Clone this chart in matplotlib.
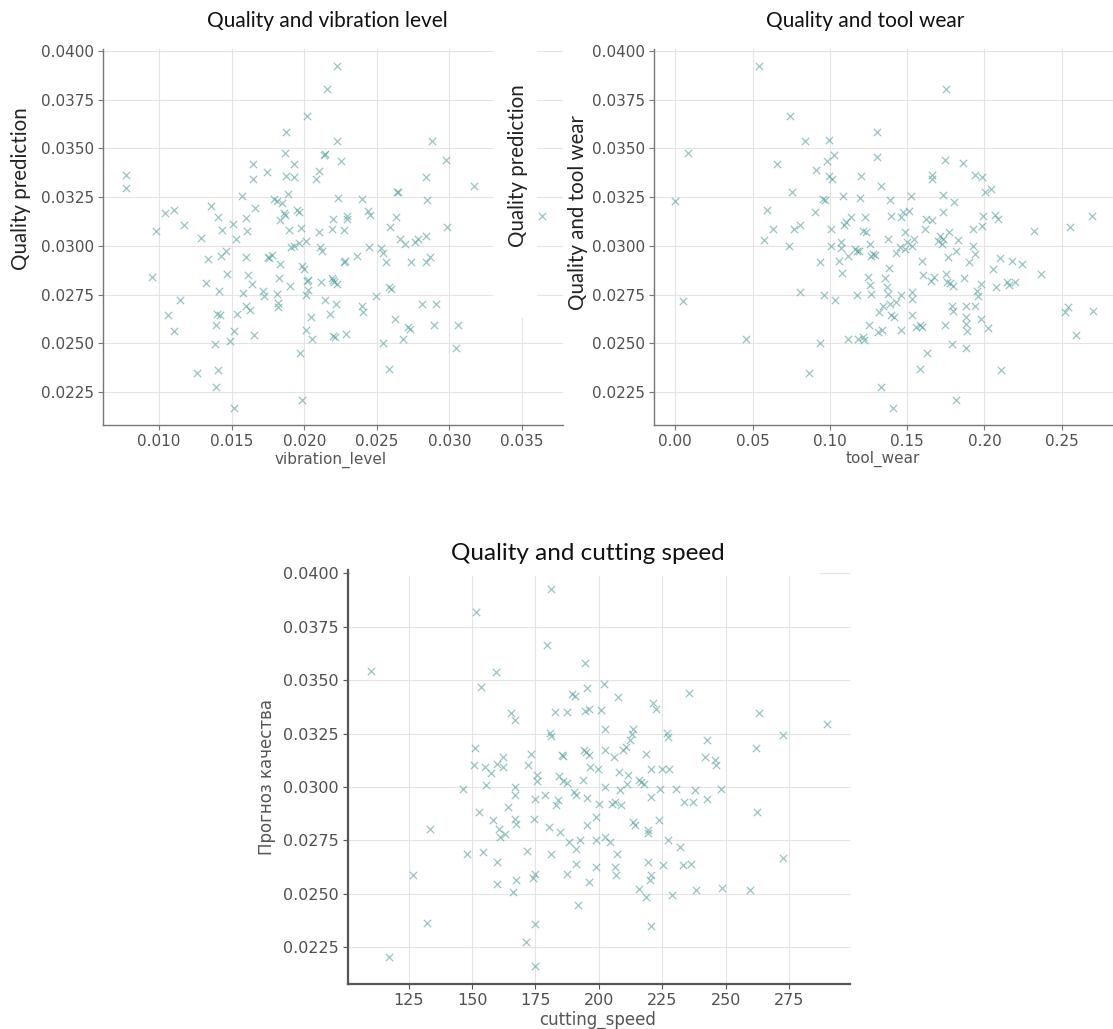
import matplotlib
matplotlib.use("Agg")
import matplotlib.pyplot as plt
from matplotlib.patches import Rectangle
from matplotlib.ticker import FormatStrFormatter

# ---------------- data ----------------
vibration_level = [
    0.00775, 0.00772, 0.00951, 0.00980, 0.01042, 0.01105, 0.01169, 0.01059, 0.01142, 0.01100,
    0.01287, 0.01262, 0.01324, 0.01338, 0.01360, 0.01409, 0.01434, 0.01429, 0.01412, 0.01397,
    0.01422, 0.01390, 0.01385, 0.01409, 0.01392, 0.01471, 0.01458, 0.01490, 0.01515, 0.01517,
    0.01510, 0.01532, 0.01534, 0.01569, 0.01578, 0.01600, 0.01598, 0.01608, 0.01596, 0.01613,
    0.01637, 0.01623, 0.01650, 0.01647, 0.01660, 0.01652, 0.01713, 0.01720, 0.01745, 0.01748,
    0.01779, 0.01789, 0.01814, 0.01831, 0.01846, 0.01858, 0.01865, 0.01875, 0.01870, 0.01875,
    0.01890, 0.01931, 0.01931, 0.01814, 0.01816, 0.01816, 0.01831, 0.01828, 0.01895, 0.01902,
    0.01912, 0.01927, 0.01949, 0.01963, 0.01961, 0.01976, 0.01985, 0.01995, 0.02010, 0.02017,
    0.02025, 0.02012, 0.02012, 0.01968, 0.01985, 0.02044, 0.02051, 0.02020, 0.02078, 0.02103,
    0.02135, 0.02142, 0.02103, 0.02108, 0.02123, 0.02118, 0.02145, 0.02160, 0.02225, 0.02225,
    0.02250, 0.02230, 0.02196, 0.02191, 0.02194, 0.02201, 0.02206, 0.02225, 0.02216, 0.02176,
    0.02201, 0.02213, 0.02275, 0.02292, 0.02292, 0.02275, 0.02285, 0.02282, 0.02360, 0.02397,
    0.02397, 0.02404, 0.02441, 0.02453, 0.02446, 0.02495, 0.02527, 0.02544, 0.02564, 0.02586,
    0.02600, 0.02630, 0.02588, 0.02642, 0.02649, 0.02662, 0.02691, 0.02625, 0.02544, 0.02586,
    0.02679, 0.02728, 0.02716, 0.02733, 0.02765, 0.02782, 0.02809, 0.02838, 0.02846, 0.02838,
    0.02838, 0.02863, 0.02880, 0.02892, 0.02904, 0.02978, 0.02985, 0.03060, 0.03047, 0.03169,
    0.03635, 0.01755, 0.02027,
]
quality_vib = [
    0.03365, 0.03295, 0.02842, 0.03075, 0.03167, 0.03186, 0.03109, 0.02643, 0.02721, 0.02562,
    0.03039, 0.02349, 0.02812, 0.02931, 0.03204, 0.03146, 0.03081, 0.02950, 0.02769, 0.02648,
    0.02643, 0.02592, 0.02496, 0.02364, 0.02274, 0.02856, 0.02976, 0.02511, 0.02562, 0.02168,
    0.03112, 0.03035, 0.02651, 0.03257, 0.02759, 0.02694, 0.03143, 0.03075, 0.02941, 0.02848,
    0.02805, 0.02672, 0.03421, 0.03343, 0.03196, 0.02544, 0.02767, 0.02745, 0.03377, 0.02945,
    0.02955, 0.03240, 0.03232, 0.03133, 0.03218, 0.03167, 0.03160, 0.03582, 0.03479, 0.03360,
    0.03266, 0.03355, 0.03420, 0.02754, 0.02706, 0.02687, 0.02907, 0.02834, 0.03079, 0.02793,
    0.02993, 0.03001, 0.03186, 0.03172, 0.03015, 0.03090, 0.02899, 0.02882, 0.03025, 0.02822,
    0.02825, 0.02749, 0.02566, 0.02451, 0.02207, 0.02634, 0.02523, 0.03664, 0.03343, 0.03385,
    0.03466, 0.03469, 0.03070, 0.02993, 0.02976, 0.02813, 0.02723, 0.03807, 0.03923, 0.03539,
    0.03433, 0.03245, 0.03138, 0.03087, 0.02836, 0.02825, 0.02813, 0.02805, 0.02702, 0.02651,
    0.02537, 0.02535, 0.03083, 0.03155, 0.03138, 0.02919, 0.02549, 0.02924, 0.02948, 0.03240,
    0.02689, 0.02660, 0.03180, 0.03158, 0.02993, 0.02745, 0.02988, 0.02964, 0.02916, 0.02788,
    0.02779, 0.03146, 0.03099, 0.03275, 0.03278, 0.03035, 0.03010, 0.02626, 0.02501, 0.02370,
    0.02520, 0.02574, 0.02583, 0.02916, 0.03022, 0.03035, 0.02702, 0.03355, 0.03235, 0.03049,
    0.02916, 0.02941, 0.03539, 0.02592, 0.02702, 0.03440, 0.03095, 0.02595, 0.02477, 0.03309,
    0.03155, 0.02940, 0.02776,
]

tool_wear = [
    0.0000, 0.0083, 0.0050, 0.0457, 0.0542, 0.0571, 0.0592, 0.0630, 0.0660, 0.0743,
    0.0758, 0.0734, 0.0769, 0.0805, 0.0805, 0.0836, 0.0864, 0.0911, 0.0904, 0.0937,
    0.0935, 0.0954, 0.0966, 0.0961, 0.0994, 0.0982, 0.0997, 0.1013, 0.1027, 0.1008,
    0.1006, 0.1032, 0.1061, 0.1072, 0.1072, 0.1077, 0.1082, 0.1091, 0.1103, 0.1120,
    0.1136, 0.1120, 0.1160, 0.1174, 0.1191, 0.1198, 0.1203, 0.1174, 0.1179, 0.1214,
    0.1222, 0.1214, 0.1226, 0.1231, 0.1245, 0.1250, 0.1262, 0.1267, 0.1278, 0.1293,
    0.1262, 0.1267, 0.1304, 0.1304, 0.1333, 0.1309, 0.1338, 0.1328, 0.1321, 0.1345,
    0.1357, 0.1368, 0.1375, 0.1373, 0.1380, 0.1392, 0.1397, 0.1387, 0.1397, 0.1416,
    0.1411, 0.1427, 0.1427, 0.1463, 0.1458, 0.1451, 0.1463, 0.1475, 0.1487, 0.1487,
    0.1499, 0.1515, 0.1522, 0.1529, 0.1534, 0.1529, 0.1529, 0.1546, 0.1558, 0.1581,
    0.1593, 0.1581, 0.1598, 0.1617, 0.1624, 0.1600, 0.1629, 0.1660, 0.1660, 0.1652,
    0.1671, 0.1664, 0.1700, 0.1712, 0.1723, 0.1730, 0.1735, 0.1735, 0.1747, 0.1752,
    0.1747, 0.1754, 0.1759, 0.1766, 0.1771, 0.1778, 0.1790, 0.1794, 0.1787, 0.1794,
    0.1806, 0.1818, 0.1830, 0.1818, 0.1861, 0.1866, 0.1882, 0.1882, 0.1878, 0.1885,
    0.1882, 0.1901, 0.1925, 0.1929, 0.1937, 0.1937, 0.1937, 0.1949, 0.1956, 0.1984,
    0.1991, 0.1984, 0.1980, 0.1977, 0.2003, 0.2024, 0.2043, 0.2067, 0.2086, 0.2055,
    0.2074, 0.2102, 0.2109, 0.2145, 0.2161, 0.2180, 0.2197, 0.2244, 0.2320, 0.2363,
    0.2521, 0.2540, 0.2552, 0.2595, 0.2694, 0.2701,
]
quality_wear = [
    0.03230, 0.03479, 0.02718, 0.02523, 0.03923, 0.03032, 0.03184, 0.03087, 0.03421, 0.03664,
    0.03278, 0.03001, 0.03087, 0.03109, 0.02762, 0.03539, 0.02349, 0.03389, 0.03172, 0.02919,
    0.02503, 0.03240, 0.03235, 0.02749, 0.03542, 0.03433, 0.03360, 0.03343, 0.03467, 0.03087,
    0.02998, 0.02723, 0.02924, 0.03018, 0.02988, 0.02861, 0.03254, 0.03109, 0.03121, 0.02950,
    0.03146, 0.02523, 0.02984, 0.02972, 0.02976, 0.03245, 0.03356, 0.02750, 0.02520, 0.02532,
    0.02515, 0.03075, 0.03146, 0.03070, 0.02839, 0.02592, 0.03008, 0.02950, 0.02958, 0.02953,
    0.02800, 0.02754, 0.03582, 0.03457, 0.03309, 0.02557, 0.02566, 0.02276, 0.02660, 0.02694,
    0.02834, 0.02788, 0.02754, 0.03035, 0.02885, 0.03235, 0.03155, 0.02702, 0.02643, 0.02634,
    0.02168, 0.02962, 0.02711, 0.02566, 0.02749, 0.02993, 0.03146, 0.03172, 0.03070, 0.02984,
    0.03018, 0.03180, 0.03257, 0.03001, 0.02762, 0.02728, 0.02646, 0.03035, 0.02583, 0.02370,
    0.02924, 0.02592, 0.02583, 0.03087, 0.03138, 0.02848, 0.02451, 0.03343, 0.03365, 0.02822,
    0.02839, 0.03133, 0.03027, 0.03049, 0.03010, 0.03035, 0.03172, 0.03261, 0.03440, 0.03807,
    0.02592, 0.02856, 0.02813, 0.02941, 0.03070, 0.02808, 0.02694, 0.02665, 0.02498, 0.02796,
    0.03223, 0.02972, 0.03030, 0.02207, 0.03423, 0.02834, 0.02694, 0.02634, 0.02600, 0.02561,
    0.02475, 0.02916, 0.03087, 0.03001, 0.02958, 0.03365, 0.02694, 0.02771, 0.02745, 0.03355,
    0.03155, 0.03104, 0.02805, 0.02626, 0.03278, 0.02578, 0.03291, 0.03158, 0.03138, 0.02882,
    0.02788, 0.02938, 0.02361, 0.02813, 0.02801, 0.02924, 0.02813, 0.02907, 0.03075, 0.02856,
    0.02660, 0.02685, 0.03099, 0.02544, 0.03155, 0.02668,
]

cutting_speed = [
    110.0, 117.4, 126.9, 132.4, 133.5, 146.6, 148.2, 151.0, 150.6, 151.7,
    153.7, 152.9, 154.5, 155.3, 155.6, 157.6, 158.4, 159.5, 160.0, 160.0,
    160.0, 160.5, 161.1, 162.1, 162.4, 162.9, 164.0, 165.5, 166.8, 167.1,
    167.1, 167.1, 167.4, 167.4, 166.0, 171.8, 171.1, 173.1, 172.2, 174.2,
    174.7, 174.5, 175.0, 175.0, 175.0, 175.8, 175.5, 178.6, 180.5, 181.0,
    179.7, 181.0, 180.8, 181.3, 182.6, 183.2, 183.7, 184.1, 184.5, 185.3,
    186.0, 185.7, 187.6, 187.3, 187.3, 188.4, 189.5, 190.5, 190.0, 190.8,
    191.1, 190.8, 191.9, 192.4, 193.6, 194.0, 194.7, 195.0, 194.7, 195.5,
    195.2, 195.5, 196.0, 196.3, 196.3, 196.6, 198.7, 199.0, 199.0, 199.6,
    199.9, 201.0, 202.1, 202.3, 202.6, 202.6, 202.6, 204.2, 205.3, 205.8,
    206.2, 206.5, 206.9, 207.3, 207.6, 207.8, 208.4, 208.9, 209.7, 210.5,
    211.0, 211.6, 212.1, 212.9, 213.3, 213.6, 214.4, 215.7, 216.0, 216.8,
    217.6, 218.4, 218.7, 219.2, 219.5, 219.2, 220.0, 220.4, 220.4, 220.7,
    220.7, 221.5, 222.6, 223.6, 224.2, 224.7, 225.2, 226.7, 227.1, 227.5,
    227.1, 228.9, 230.5, 231.8, 233.0, 233.4, 235.7, 236.5, 237.3, 237.8,
    238.4, 242.0, 242.5, 242.8, 245.7, 246.3, 248.3, 248.7, 259.4, 261.8,
    263.0, 262.5, 272.5, 272.5, 289.8,
]
quality_speed = [
    0.03542, 0.02203, 0.02589, 0.02363, 0.02805, 0.02988, 0.02688, 0.03184, 0.03102, 0.03817,
    0.03469, 0.02883, 0.02695, 0.03094, 0.03008, 0.03063, 0.02844, 0.03539, 0.03109, 0.02648,
    0.02547, 0.02805, 0.02766, 0.03094, 0.03141, 0.02781, 0.02906, 0.03347, 0.03313, 0.03000,
    0.02964, 0.02852, 0.02825, 0.02563, 0.02508, 0.02698, 0.02273, 0.03156, 0.03105, 0.02575,
    0.02594, 0.02852, 0.02945, 0.02359, 0.02161, 0.03055, 0.03027, 0.02961, 0.02813, 0.02688,
    0.03664, 0.03927, 0.03253, 0.03238, 0.03352, 0.02914, 0.02938, 0.03050, 0.02789, 0.03148,
    0.03144, 0.03027, 0.03020, 0.03352, 0.02594, 0.02742, 0.03434, 0.03425, 0.02977, 0.02961,
    0.02711, 0.02641, 0.02448, 0.02750, 0.03034, 0.03172, 0.03581, 0.03164, 0.03355, 0.03461,
    0.02823, 0.02948, 0.03148, 0.03367, 0.02555, 0.03094, 0.02859, 0.02750, 0.02625, 0.03086,
    0.02922, 0.03359, 0.03484, 0.03273, 0.03172, 0.03000, 0.02766, 0.02742, 0.02922, 0.03141,
    0.02930, 0.02625, 0.02586, 0.02688, 0.03422, 0.03070, 0.02984, 0.02914, 0.03172, 0.03188,
    0.03016, 0.03055, 0.03219, 0.03250, 0.03273, 0.02836, 0.02820, 0.03031, 0.02523, 0.03023,
    0.03016, 0.02484, 0.03156, 0.02797, 0.02784, 0.02648, 0.02563, 0.02586, 0.02347, 0.03086,
    0.02953, 0.03391, 0.03367, 0.02844, 0.02992, 0.03086, 0.02633, 0.03253, 0.03234, 0.03086,
    0.02750, 0.02492, 0.02992, 0.02719, 0.02633, 0.02930, 0.03438, 0.02641, 0.02930, 0.02984,
    0.02516, 0.03141, 0.03222, 0.02945, 0.03128, 0.03105, 0.02988, 0.02527, 0.02516, 0.03183,
    0.03344, 0.02883, 0.03242, 0.02669, 0.03294,
]

y_ticks = [0.0225, 0.0250, 0.0275, 0.0300, 0.0325, 0.0350, 0.0375, 0.0400]
vib_ticks = [0.010, 0.015, 0.020, 0.025, 0.030, 0.035]
wear_ticks = [0.00, 0.05, 0.10, 0.15, 0.20, 0.25]
speed_ticks = [125, 150, 175, 200, 225, 250, 275]

# ---------------- figure ----------------
W, H = 1113, 1029
fig = plt.figure(figsize=(W / 100, H / 100), dpi=100)
fig.patch.set_facecolor("white")

def px_axes(left, top, right, bottom):
    return fig.add_axes([left / W, 1 - bottom / H, (right - left) / W, (bottom - top) / H])

MARK = dict(marker="x", s=28, color="#4f9f9c", alpha=0.6, linewidths=0.9)

def style(ax, spine_lw=1.0, spine_col="#777777", lab=11):
    ax.grid(True, color="#e4e4e4", lw=0.8)
    ax.set_axisbelow(True)
    for s in ("top", "right"):
        ax.spines[s].set_visible(False)
    for s in ("left", "bottom"):
        ax.spines[s].set_color(spine_col)
        ax.spines[s].set_linewidth(spine_lw)
    ax.tick_params(direction="out", length=3.5, width=0.8, color=spine_col,
                   labelcolor="#505050", labelsize=lab, pad=3)
    ax.set_yticks(y_ticks)
    ax.yaxis.set_major_formatter(FormatStrFormatter("%.4f"))

# Panel 1
ax1 = px_axes(103, 49, 563, 425)
ax1.scatter(vibration_level, quality_vib, **MARK)
style(ax1)
ax1.set_xticks(vib_ticks)
ax1.xaxis.set_major_formatter(FormatStrFormatter("%.3f"))
ax1.set_xlim(0.00614, 0.03782)
ax1.set_ylim(0.02081, 0.0401)

# Panel 2
ax2 = px_axes(654, 49, 1113, 425)
ax2.scatter(tool_wear, quality_wear, **MARK)
style(ax2)
ax2.set_xticks(wear_ticks)
ax2.xaxis.set_major_formatter(FormatStrFormatter("%.2f"))
ax2.set_xlim(-0.0138, 0.2832)
ax2.set_ylim(0.02081, 0.0401)

# Panel 3
ax3 = px_axes(348, 570, 850, 984)
ax3.scatter(cutting_speed, quality_speed, **MARK)
style(ax3, spine_lw=1.6, spine_col="#555555", lab=11.5)
ax3.set_xticks(speed_ticks)
ax3.set_xlim(101.1, 299.0)
ax3.set_ylim(0.02077, 0.04016)

# white patch left over between panels 1 and 2
fig.add_artist(Rectangle((493 / W, 1 - 318 / H), 44 / W, (318 - 38) / H,
                         transform=fig.transFigure, facecolor="white",
                         edgecolor="none", zorder=5))
# top grid line of the lower panel is hidden except at its right end
fig.add_artist(Rectangle((351 / W, 1 - 576 / H), (820 - 351) / W, 6 / H,
                         transform=fig.transFigure, facecolor="white",
                         edgecolor="none", zorder=5))

TF = ["Lato", "DejaVu Sans"]

def ftext(x, y, s, **kw):
    fig.text(x / W, 1 - y / H, s, ha="center", va="center", zorder=6, **kw)

# titles
ftext(327, 21, "Quality and vibration level", fontsize=15, family=TF, color="#111111")
ftext(865, 21, "Quality and tool wear", fontsize=15, family=TF, color="#111111")
ftext(588, 553, "Quality and cutting speed", fontsize=17.5, family=TF, color="#111111")

# y labels
ftext(21, 189, "Quality prediction", fontsize=14.8, family=TF, color="#222222", rotation=90)
ftext(518, 166, "Quality prediction", fontsize=14.8, family=TF, color="#222222", rotation=90)
ftext(578, 212, "Quality and tool wear", fontsize=14.8, family=TF, color="#222222", rotation=90)
ftext(267, 777, "Прогноз качества", fontsize=12, family=["DejaVu Sans"], color="#555555", rotation=90)

# x labels
ftext(331, 460, "vibration_level", fontsize=11, family=["DejaVu Sans"], color="#555555")
ftext(883, 459, "tool_wear", fontsize=11, family=["DejaVu Sans"], color="#555555")
ftext(598, 1020, "cutting_speed", fontsize=12, family=["DejaVu Sans"], color="#555555")

fig.savefig("out.png", dpi=100, facecolor="white")
